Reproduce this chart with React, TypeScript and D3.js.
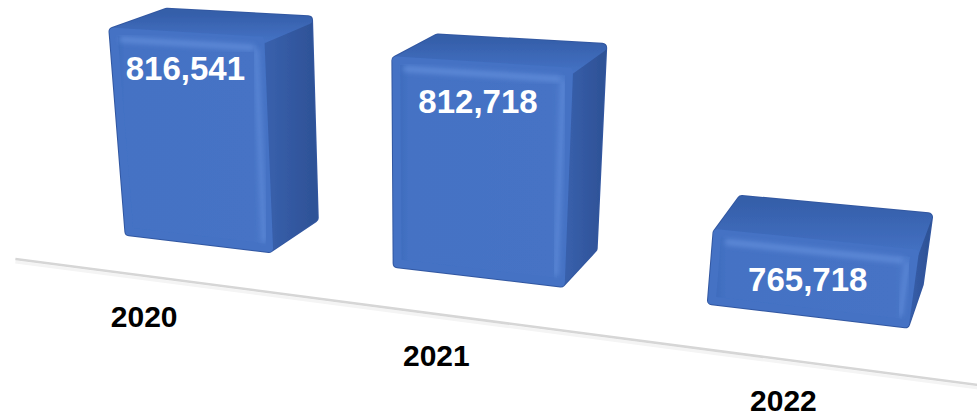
import React from 'react';
import * as d3 from 'd3';

// ---- data ----
const years: string[] = ['2020', '2021', '2022'];
const values: number[] = [816541, 812718, 765718];
const valueLabels: string[] = ['816,541', '812,718', '765,718'];

// ---- canvas ----
const W = 977;
const H = 417;

// ---- perspective projection (world x: category axis, y: value, z: depth) ----
const O: [number, number] = [122, 237];
const VPX: [number, number] = [-3260, -170];
const VPY: [number, number] = [420, 3900];
const VPZ: [number, number] = [1130, -330];
const KA = -0.0002957;
const KB = -0.000258;
const KG = 0.000526;

function project(x: number, y: number, z: number): [number, number] {
  const a = KA * x;
  const b = KB * y;
  const g = KG * z;
  const w = 1 + a + b + g;
  return [
    (a * VPX[0] + b * VPY[0] + g * VPZ[0] + O[0]) / w,
    (a * VPX[1] + b * VPY[1] + g * VPZ[1] + O[1]) / w,
  ];
}

const FONT = "'Liberation Sans', Arial, Helvetica, sans-serif";

export default function App() {
  const xScale = d3
    .scaleBand<string>()
    .domain(years)
    .range([-52, 692])
    .paddingInner(0.42)
    .paddingOuter(0.21);
  const yScale = d3.scaleLinear().domain([740000, 820000]).range([0, 219.5]);
  const depth = 110;
  const r = 5;
  const line = d3.line<[number, number]>();
  const poly = (pts: [number, number][]) => (line(pts) || '') + 'Z';

  const floorA = project(-85, -20, -45);
  const floorB = project(820, -20, -45);

  return (
    <svg
      width={W}
      height={H}
      viewBox={`0 0 ${W} ${H}`}
      style={{ position: 'fixed', left: 0, top: 0, background: '#ffffff' }}
    >
      <defs>
        <filter id="soft" x="-10%" y="-10%" width="120%" height="120%">
          <feGaussianBlur stdDeviation="0.6" />
        </filter>
        <filter id="hl" x="-20%" y="-50%" width="140%" height="200%">
          <feGaussianBlur stdDeviation="2.4" />
        </filter>
        <filter id="floorBlur" x="-5%" y="-50%" width="110%" height="200%">
          <feGaussianBlur stdDeviation="0.7" />
        </filter>
        <linearGradient id="sideGrad" x1="0" y1="0" x2="1" y2="0">
          <stop offset="0" stopColor="#3a62af" />
          <stop offset="1" stopColor="#2e5297" />
        </linearGradient>
        <linearGradient id="topGrad" x1="0" y1="1" x2="0" y2="0">
          <stop offset="0" stopColor="#4471c3" />
          <stop offset="1" stopColor="#345ea9" />
        </linearGradient>
        <linearGradient id="frontGrad" x1="0" y1="0" x2="1" y2="0">
          <stop offset="0" stopColor="#3d69ba" />
          <stop offset="0.07" stopColor="#4472c4" />
          <stop offset="0.9" stopColor="#4673c5" />
          <stop offset="1" stopColor="#4d7acb" />
        </linearGradient>
      </defs>

      {/* floor line */}
      <line
        x1={floorA[0]}
        y1={floorA[1] + 3}
        x2={floorB[0]}
        y2={floorB[1] + 3}
        stroke="#f4f4f4"
        strokeWidth={3}
        filter="url(#floorBlur)"
      />
      <line
        x1={floorA[0]}
        y1={floorA[1]}
        x2={floorB[0]}
        y2={floorB[1]}
        stroke="#d6d6d6"
        strokeWidth={2.5}
        filter="url(#floorBlur)"
      />

      {years.map((yr, i) => {
        const bx = xScale(yr) as number;
        const bw = xScale.bandwidth();
        const x0 = bx + r;
        const x1 = bx + bw - r;
        const y0 = r;
        const h = yScale(values[i]) - r;
        const z0 = r;
        const z1 = depth - r;
        const Fbl = project(x0, y0, z0);
        const Fbr = project(x1, y0, z0);
        const Ftr = project(x1, h, z0);
        const Ftl = project(x0, h, z0);
        const Bbr = project(x1, y0, z1);
        const Btr = project(x1, h, z1);
        const Btl = project(x0, h, z1);
        const hull: [number, number][] = [Ftl, Btl, Btr, Bbr, Fbr, Fbl];
        const side: [number, number][] = [Fbr, Bbr, Btr, Ftr];
        const top: [number, number][] = [Ftl, Ftr, Btr, Btl];
        const front: [number, number][] = [Fbl, Fbr, Ftr, Ftl];
        const hlT1 = project(x0 + 8, h - 7, z0);
        const hlT2 = project(x1 - 8, h - 7, z0);
        const hlR1 = project(x1 - 4, h - 10, z0);
        const hlR2 = project(x1 - 4, y0 + 8, z0);
        const xc = bx + bw / 2;
        const lp = project(xc, yScale(values[i]) - 45, 0);
        const cp = project(xc, 0, -97);
        return (
          <g key={yr}>
            <g filter="url(#soft)">
              <path
                d={poly(hull)}
                fill="#3257a1"
                stroke="#3257a1"
                strokeWidth={2 * r}
                strokeLinejoin="round"
              />
              <path
                d={poly(side)}
                fill="url(#sideGrad)"
                stroke="url(#sideGrad)"
                strokeWidth={2 * r - 2}
                strokeLinejoin="round"
              />
              <path
                d={poly(top)}
                fill="url(#topGrad)"
                stroke="url(#topGrad)"
                strokeWidth={2 * r - 2}
                strokeLinejoin="round"
              />
              <path
                d={poly(front)}
                fill="url(#frontGrad)"
                stroke="#4472c4"
                strokeWidth={2 * r - 2}
                strokeLinejoin="round"
              />
            </g>
            <line
              x1={hlT1[0]}
              y1={hlT1[1]}
              x2={hlT2[0]}
              y2={hlT2[1]}
              stroke="#5d89d7"
              strokeWidth={6}
              strokeLinecap="round"
              filter="url(#hl)"
            />
            <line
              x1={hlR1[0]}
              y1={hlR1[1]}
              x2={hlR2[0]}
              y2={hlR2[1]}
              stroke="#5a86d5"
              strokeWidth={5}
              strokeLinecap="round"
              filter="url(#hl)"
            />
            <text
              x={lp[0]}
              y={lp[1]}
              textAnchor="middle"
              fill="#ffffff"
              fontFamily={FONT}
              fontWeight="bold"
              fontSize={33}
            >
              {valueLabels[i]}
            </text>
            <text
              x={cp[0]}
              y={cp[1] + 39}
              dy="0.36em"
              textAnchor="middle"
              fill="#000000"
              fontFamily={FONT}
              fontWeight="bold"
              fontSize={30}
            >
              {yr}
            </text>
          </g>
        );
      })}
    </svg>
  );
}
